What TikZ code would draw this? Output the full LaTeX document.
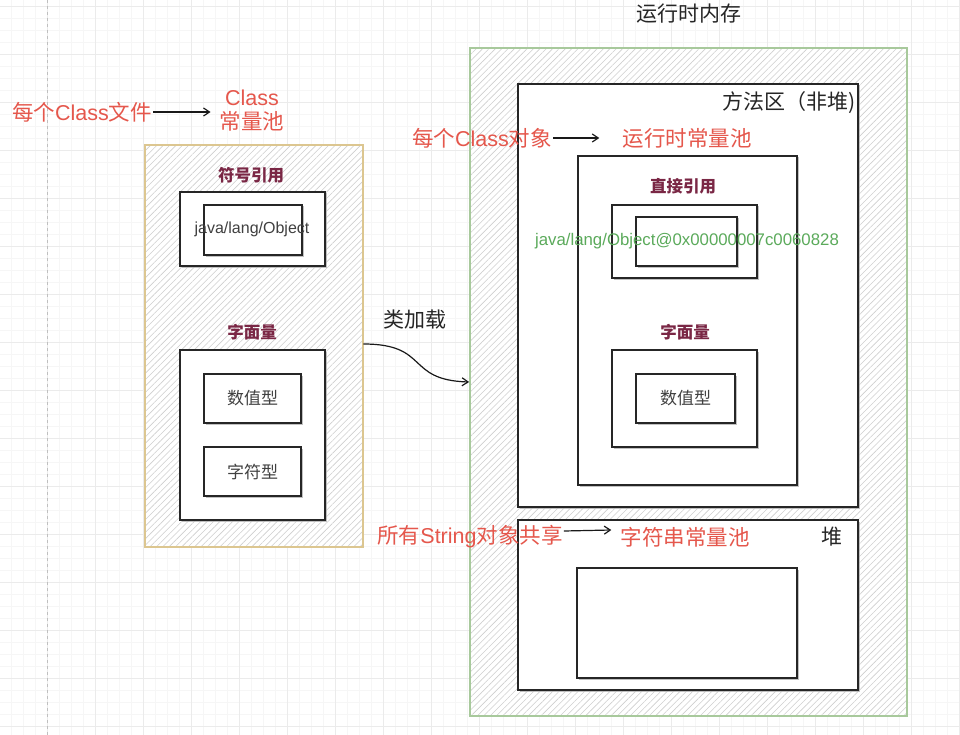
\documentclass[tikz,border=0pt]{standalone}
\usepackage{fontspec}
\setmainfont{Liberation Sans}
\newfontfamily\cjk{Noto Sans CJK SC}
\usetikzlibrary{patterns.meta,arrows.meta,shadows}
\definecolor{lblred}{HTML}{E5574C}
\definecolor{lblpur}{HTML}{7A2745}
\definecolor{lblgreen}{HTML}{5BAA5B}
\definecolor{tanbd}{HTML}{DCC690}
\definecolor{greenbd}{HTML}{A8C99C}
\definecolor{gridmaj}{HTML}{EBEBEB}
\definecolor{gridmin}{HTML}{F6F6F6}
\definecolor{hatchc}{HTML}{CFCFCF}
\tikzset{
  box/.style={draw=black!85, line width=1.1, fill=white, inner sep=0,
    drop shadow={shadow xshift=1.5pt, shadow yshift=-1.5pt, fill=black!30, opacity=0.8}},
  hatchbox/.style={line width=1.8, inner sep=0, preaction={fill=white},
    pattern={Lines[angle=45,distance=4.5pt,line width=0.6pt]}, pattern color=hatchc},
  redlbl/.style={text=lblred, font=\fontsize{21.5}{24}\selectfont, inner sep=1},
  purlbl/.style={text=lblpur, font=\cjk\bfseries\fontsize{16.5}{18}\selectfont, inner sep=1},
  plainlbl/.style={text=black!85, font=\cjk\fontsize{21}{22}\selectfont, inner sep=1},
  cell/.style={text=black!75, font=\cjk\fontsize{17}{19}\selectfont},
  arr/.style={line width=1.2, black!90, -{Straight Barb[length=6pt,width=8pt]}}
}
\begin{document}
\begin{tikzpicture}[x=1pt,y=-1pt]
\useasboundingbox[fill=white] (0,0) rectangle (960,735);
% grid
\foreach \i in {-1,11,...,960} \draw[gridmin, line width=0.5] (\i,0) -- (\i,735);
\foreach \j in {6,18,...,735} \draw[gridmin, line width=0.5] (0,\j) -- (960,\j);
\foreach \i in {47,95,...,960} \draw[gridmaj, line width=0.8] (\i,0) -- (\i,735);
\foreach \j in {6,54,...,735} \draw[gridmaj, line width=0.8] (0,\j) -- (960,\j);
\draw[black!25, dashed, line width=0.6] (47,0) -- (47,735);

% ---------- left: class constant pool ----------
\node[hatchbox, draw=tanbd, minimum width=218, minimum height=402] (cpool) at (254,346) {};
\node[purlbl] (symlbl) at (251,175) {\cjk 符号引用};
\node[box, minimum width=145, minimum height=74] (symOuter) at (252.5,229) {};
\node[box, minimum width=98, minimum height=50] (symInner) at (253,230) {};
\node[text=black!75, font=\fontsize{16}{18}\selectfont] (jlo) at (252,229) {java/lang/Object};
\node[purlbl] (litlbl) at (252,332) {\cjk 字面量};
\node[box, minimum width=145, minimum height=170] (litOuter) at (252.5,435) {};
\node[box, minimum width=97, minimum height=49] (num1) at (252.5,398.5) {};
\node[cell] at (num1) {数值型};
\node[box, minimum width=97, minimum height=49] (chr1) at (252.5,471.5) {};
\node[cell] at (chr1) {字符型};

\node[redlbl] (f1) at (82,112) {{\cjk 每个}Class{\cjk 文件}};
\node[redlbl, align=center] (cp) at (252,111) {Class\\{\cjk 常量池}};
\draw[arr] (f1.east) -- ([xshift=-8pt]cp.west |- f1.east);

% ---------- right: runtime memory ----------
\node[plainlbl] (rtlbl) at (689,14) {运行时内存};
\node[hatchbox, draw=greenbd, minimum width=437, minimum height=668] (rt) at (688.5,382) {};
\node[box, minimum width=340, minimum height=423] (ma) at (688,295.5) {};
\node[plainlbl, anchor=east] (malbl) at (857,103) {方法区（非堆)};

\node[redlbl] (f2) at (482,138) {{\cjk 每个}Class{\cjk 对象}};
\node[redlbl] (rcp) at (687,138) {\cjk 运行时常量池};
\draw[arr] (f2.east) -- ([xshift=-22pt]rcp.west);

\node[box, minimum width=219, minimum height=329] (rcpBox) at (687.5,320.5) {};
\node[purlbl] (drlbl) at (683,186) {\cjk 直接引用};
\node[box, minimum width=145, minimum height=73] (drOuter) at (684.5,241.5) {};
\node[box, minimum width=101, minimum height=49] (drInner) at (686.5,241.5) {};
\node[text=lblgreen, font=\fontsize{16.8}{18}\selectfont] (addr) at (687,241) {java/lang/Object@0x00000007c0060828};
\node[purlbl] (lit2lbl) at (685,332) {\cjk 字面量};
\node[box, minimum width=145, minimum height=97] (lit2Outer) at (684.5,398.5) {};
\node[box, minimum width=99, minimum height=49] (num2) at (685.5,398.5) {};
\node[cell] at (num2) {数值型};

\node[box, minimum width=340, minimum height=170] (heap) at (688,605) {};
\node[plainlbl] (heaplbl) at (832,537) {堆};
\node[box, minimum width=220, minimum height=110] (heapInner) at (687,623) {};

\node[redlbl] (f3) at (470,537) {{\cjk 所有}String{\cjk 对象共享}};
\node[redlbl] (scp) at (685,537) {\cjk 字符串常量池};
\draw[arr] ([yshift=6pt]f3.east) -- ([xshift=-8pt,yshift=7pt]scp.west);

% class loading arrow
\node[plainlbl] (load) at (415,320) {类加载};
\draw[arr] ([yshift=2pt]cpool.east) .. controls (430,344) and (405,380) .. (rt.west);
\end{tikzpicture}
\end{document}
